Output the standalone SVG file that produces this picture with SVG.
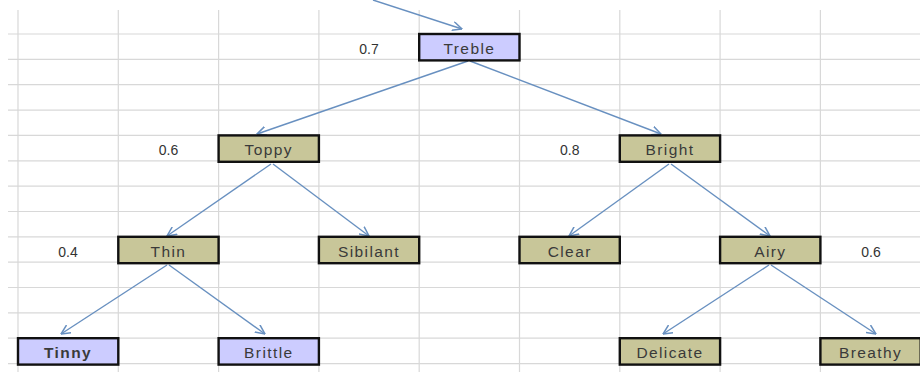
<svg xmlns="http://www.w3.org/2000/svg" width="920" height="372" viewBox="0 0 920 372">
  <defs>
    <marker id="arrow" viewBox="0 0 10 10" refX="9.5" refY="5" markerWidth="10" markerHeight="10" markerUnits="userSpaceOnUse" orient="auto">
      <path d="M0,0.5 L9.5,5 L0,9.5" fill="none" stroke="#6890c0" stroke-width="1.5"/>
    </marker>
  </defs>
  <style>
    .grid line { stroke: #d8d8d8; stroke-width: 1.2; }
    .box { stroke: #111; stroke-width: 2.4; }
    .lav { fill: #ccccff; }
    .tan { fill: #c8c699; }
    .lbl { font-family: "Liberation Sans", Arial, sans-serif; font-size: 15.5px; fill: #3a3a3a; text-anchor: middle; letter-spacing: 1.4px; }
    .num { font-family: "Liberation Sans", Arial, sans-serif; font-size: 14px; fill: #333; text-anchor: middle; }
    .edge { stroke: #6890c0; stroke-width: 1.4; fill: none; marker-end: url(#arrow); }
  </style>
  <rect width="920" height="372" fill="#ffffff"/>

  <!-- spreadsheet grid -->
  <g class="grid">
    <line x1="8" y1="34" x2="920" y2="34"/>
    <line x1="8" y1="59.4" x2="920" y2="59.4"/>
    <line x1="8" y1="84.7" x2="920" y2="84.7"/>
    <line x1="8" y1="110.1" x2="920" y2="110.1"/>
    <line x1="8" y1="135.4" x2="920" y2="135.4"/>
    <line x1="8" y1="160.8" x2="920" y2="160.8"/>
    <line x1="8" y1="186.1" x2="920" y2="186.1"/>
    <line x1="8" y1="211.5" x2="920" y2="211.5"/>
    <line x1="8" y1="236.8" x2="920" y2="236.8"/>
    <line x1="8" y1="262.2" x2="920" y2="262.2"/>
    <line x1="8" y1="287.5" x2="920" y2="287.5"/>
    <line x1="8" y1="312.9" x2="920" y2="312.9"/>
    <line x1="8" y1="338.2" x2="920" y2="338.2"/>
    <line x1="8" y1="363.6" x2="920" y2="363.6"/>
    <line x1="18" y1="10" x2="18" y2="372"/>
    <line x1="118.3" y1="10" x2="118.3" y2="372"/>
    <line x1="218.6" y1="10" x2="218.6" y2="372"/>
    <line x1="318.9" y1="10" x2="318.9" y2="372"/>
    <line x1="419.2" y1="10" x2="419.2" y2="372"/>
    <line x1="519.5" y1="10" x2="519.5" y2="372"/>
    <line x1="619.8" y1="10" x2="619.8" y2="372"/>
    <line x1="720.1" y1="10" x2="720.1" y2="372"/>
    <line x1="820.4" y1="10" x2="820.4" y2="372"/>
  </g>

  <!-- weights -->
  <g id="weights">
    <text class="num" x="369" y="53.5">0.7</text>
    <text class="num" x="168.5" y="155">0.6</text>
    <text class="num" x="569.7" y="155">0.8</text>
    <text class="num" x="68" y="256.5">0.4</text>
    <text class="num" x="871" y="256.5">0.6</text>
  </g>

  <!-- connectors -->
  <g id="connectors">
    <line class="edge" x1="373" y1="0" x2="462" y2="29"/>
    <line class="edge" x1="468" y1="61" x2="257" y2="134"/>
    <line class="edge" x1="470" y1="61" x2="661" y2="134"/>
    <line class="edge" x1="271" y1="164" x2="167" y2="236"/>
    <line class="edge" x1="273" y1="164" x2="369" y2="236"/>
    <line class="edge" x1="669" y1="164" x2="569" y2="236"/>
    <line class="edge" x1="671" y1="164" x2="770" y2="236"/>
    <line class="edge" x1="167" y1="265" x2="61" y2="334"/>
    <line class="edge" x1="169" y1="265" x2="265" y2="334"/>
    <line class="edge" x1="769" y1="265" x2="663" y2="334"/>
    <line class="edge" x1="771" y1="265" x2="876" y2="334"/>
  </g>

  <!-- nodes -->
  <g id="treble"><rect class="box lav" x="419.2" y="34" width="100.3" height="26.4"/><text class="lbl" x="469.4" y="53.5">Treble</text></g>
  <g id="toppy"><rect class="box tan" x="218.6" y="135.4" width="100.3" height="26.4"/><text class="lbl" x="268.8" y="155">Toppy</text></g>
  <g id="bright"><rect class="box tan" x="619.8" y="135.4" width="100.3" height="26.4"/><text class="lbl" x="670" y="155">Bright</text></g>
  <g id="thin"><rect class="box tan" x="118.3" y="236.8" width="100.3" height="26.4"/><text class="lbl" x="168.5" y="256.5">Thin</text></g>
  <g id="sibilant"><rect class="box tan" x="318.9" y="236.8" width="100.3" height="26.4"/><text class="lbl" x="369" y="256.5">Sibilant</text></g>
  <g id="clear"><rect class="box tan" x="519.5" y="236.8" width="100.3" height="26.4"/><text class="lbl" x="569.7" y="256.5">Clear</text></g>
  <g id="airy"><rect class="box tan" x="720.1" y="236.8" width="100.3" height="26.4"/><text class="lbl" x="770.3" y="256.5">Airy</text></g>
  <g id="tinny"><rect class="box lav" x="18" y="338.2" width="100.3" height="26.4"/><text class="lbl" x="68" y="357.5" font-weight="bold" fill="#222">Tinny</text></g>
  <g id="brittle"><rect class="box lav" x="218.6" y="338.2" width="100.3" height="26.4"/><text class="lbl" x="268.8" y="357.5">Brittle</text></g>
  <g id="delicate"><rect class="box tan" x="619.8" y="338.2" width="100.3" height="26.4"/><text class="lbl" x="670" y="357.5">Delicate</text></g>
  <g id="breathy"><rect class="box tan" x="820.4" y="338.2" width="100.3" height="26.4"/><text class="lbl" x="870.5" y="357.5">Breathy</text></g>
</svg>
